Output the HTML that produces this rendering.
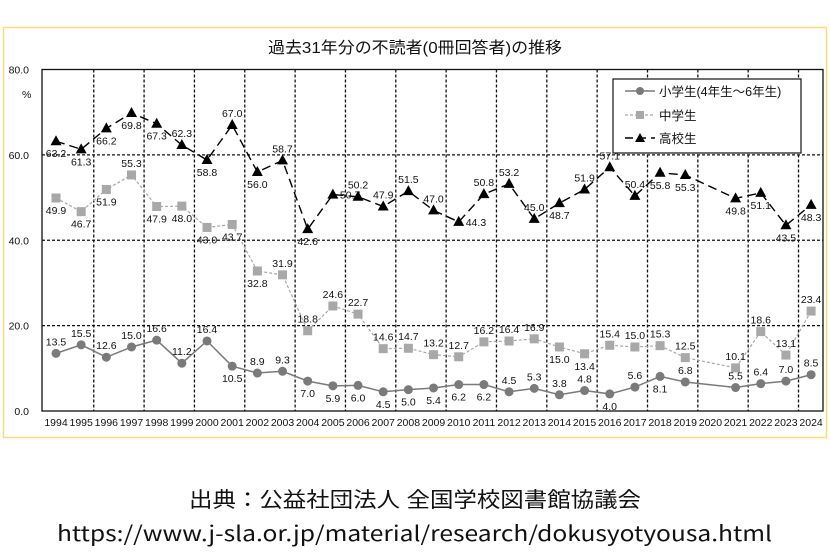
<!DOCTYPE html>
<html><head><meta charset="utf-8"><style>
body{margin:0;background:#fff;width:830px;height:560px;overflow:hidden}
svg{display:block}
.t{font-family:"Liberation Sans",sans-serif;font-size:10.5px;fill:#111}
</style></head><body>
<svg id="s" width="830" height="560" xmlns="http://www.w3.org/2000/svg">
<rect x="3.5" y="27.5" width="823" height="410" fill="#fff" stroke="#ffd87a" stroke-width="1.5"/>
<text x="268" y="53" textLength="294" lengthAdjust="spacingAndGlyphs" font-family="'Liberation Sans','Noto Sans CJK JP',sans-serif" font-size="16" fill="#111">過去31年分の不読者(0冊回答者)の推移</text>
<text x="189" y="507" textLength="452" lengthAdjust="spacingAndGlyphs" font-family="'Liberation Sans','Noto Sans CJK JP',sans-serif" font-size="21" fill="#111">出典：公益社団法人 全国学校図書館協議会</text>
<text x="57" y="541" textLength="715" lengthAdjust="spacingAndGlyphs" font-family="'Noto Sans CJK JP',sans-serif" font-size="21" fill="#111">https://www.j-sla.or.jp/material/research/dokusyotyousa.html</text>
<g id="g"></g>
</svg>
<script>
const NS="http://www.w3.org/2000/svg",g=document.getElementById('g');
function el(n,a,t){const e=document.createElementNS(NS,n);for(const k in a)e.setAttribute(k,a[k]);if(t!==undefined)e.textContent=t;g.appendChild(e);return e;}
const L=42,R=823,T=69.5,B=411;
const X=y=>56+(y-1994)*25.17, Y=v=>B-v*(B-T)/80;
for(const v of [20,40,60]) el('line',{x1:L,x2:R,y1:Y(v),y2:Y(v),stroke:'#111','stroke-width':1.3,'stroke-dasharray':'3,2'});
for(let y=1995.5;y<2024;y+=2) el('line',{x1:X(y),x2:X(y),y1:T,y2:B,stroke:'#111','stroke-width':1.3,'stroke-dasharray':'3,2'});
el('rect',{x:L,y:T,width:R-L,height:B-T,fill:'none',stroke:'#111','stroke-width':1.3});
for(const v of [0,20,40,60,80]) el('text',{x:29,y:Y(v)+4,'text-anchor':'end',class:'t','font-size':11.5},v.toFixed(1));
el('text',{x:22,y:98,class:'t','font-size':12.5},'%');
for(let y=1994;y<=2024;y++) el('text',{x:X(y),y:426,'text-anchor':'middle',class:'t','font-size':9.5},y);
const yrs=[];for(let y=1994;y<=2024;y++) if(y!=2020) yrs.push(y);
const H=[63.2,61.3,66.2,69.8,67.3,62.3,58.8,67.0,56.0,58.7,42.6,50.7,50.2,47.9,51.5,47.0,44.3,50.8,53.2,45.0,48.7,51.9,57.1,50.4,55.8,55.3,49.8,51.1,43.5,48.3];
const Hp="bbbbbabababraaaaraaabaaabbbbbb";
const M=[49.9,46.7,51.9,55.3,47.9,48.0,43.0,43.7,32.8,31.9,18.8,24.6,22.7,14.6,14.7,13.2,12.7,16.2,16.4,16.9,15.0,13.4,15.4,15.0,15.3,12.5,10.1,18.6,13.1,23.4];
const Mp="bbbabbbbbaaaaaaaaaaabbaaaaaaaa";
const E=[13.5,15.5,12.6,15.0,16.6,11.2,16.4,10.5,8.9,9.3,7.0,5.9,6.0,4.5,5.0,5.4,6.2,6.2,4.5,5.3,3.8,4.8,4.0,5.6,8.1,6.8,5.5,6.4,7.0,8.5];
const Ep="aaaaaaabaabbbbbbbbaaaababaaaaa";
function series(d,pos,col,dash,mk,w){
  el('polyline',{points:d.map((v,i)=>X(yrs[i])+','+Y(v)).join(' '),fill:'none',stroke:col,'stroke-width':w,'stroke-dasharray':dash});
  d.forEach((v,i)=>{const x=X(yrs[i]),y=Y(v);
    if(mk=='c')el('circle',{cx:x,cy:y,r:4.5,fill:'#7a7a7a'});
    else if(mk=='s')el('rect',{x:x-4.5,y:y-4.5,width:9,height:9,fill:'#a8a8a8'});
    else el('polygon',{points:`${x},${y-6} ${x-5.5},${y+4} ${x+5.5},${y+4}`,fill:'#000'});
    const p=pos[i];let tx=x,ty=p=='a'?y-8:y+16,an='middle';
    if(p=='r'){tx=x+7;ty=y+4;an='start';}
    el('text',{x:tx,y:ty,'text-anchor':an,class:'t'},v.toFixed(1));
  });
}
series(E,Ep,'#7a7a7a','none','c',1.5);
series(M,Mp,'#a8a8a8','3,2','s',1.2);
series(H,Hp,'#000','9,5','t',1.4);
el('rect',{x:613,y:79,width:188,height:74,fill:'#fff',stroke:'#111','stroke-width':1.2});
el('line',{x1:625,x2:655,y1:91,y2:91,stroke:'#7a7a7a','stroke-width':1.5});el('circle',{cx:640,cy:91,r:4,fill:'#7a7a7a'});
el('line',{x1:625,x2:655,y1:115,y2:115,stroke:'#a8a8a8','stroke-width':1.2,'stroke-dasharray':'3,2'});el('rect',{x:636,y:111,width:8,height:8,fill:'#a8a8a8'});
el('line',{x1:625,x2:655,y1:138,y2:138,stroke:'#000','stroke-width':1.4,'stroke-dasharray':'8,5'});el('polygon',{points:'640,133 635,142 645,142',fill:'#000'});
const lf="'Liberation Sans','Noto Sans CJK JP',sans-serif";
el('text',{x:659,y:96,'font-family':lf,'font-size':12.5,fill:'#111'},'小学生(4年生～6年生)');
el('text',{x:659,y:120,'font-family':lf,'font-size':12.5,fill:'#111'},'中学生');
el('text',{x:659,y:143,'font-family':lf,'font-size':12.5,fill:'#111'},'高校生');
</script>
</body></html>
